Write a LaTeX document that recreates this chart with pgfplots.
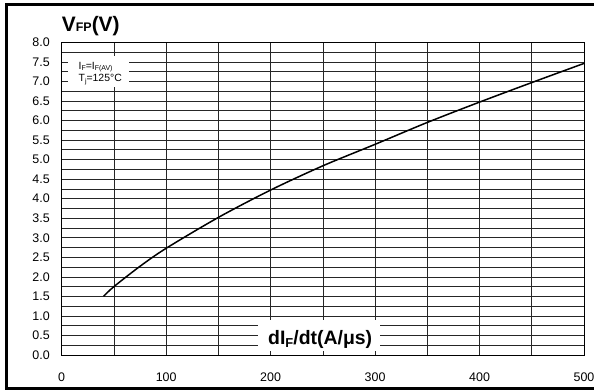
\documentclass[border=0pt]{standalone}
\usepackage{pgfplots}
\pgfplotsset{compat=1.18}
\usepackage{fontspec}
\setmainfont{Liberation Sans}
\begin{document}
\begin{tikzpicture}
\useasboundingbox (-61.7bp,-35bp) rectangle (532.3bp,355bp);
\draw[line width=3bp] (540bp,350bp) -- (-55.2bp,350bp) -- (-55.2bp,-33.5bp) -- (540bp,-33.5bp);
\begin{axis}[
  at={(0,0)}, anchor=south west,
  scale only axis, width=522.3bp, height=312.7bp,
  xmin=0, xmax=500, ymin=0, ymax=8,
  clip=false,
  xtick={0,100,...,500},
  minor xtick={50,150,...,450},
  ytick={0,0.5,...,8},
  minor ytick={0.25,0.75,...,7.75},
  grid=both,
  major grid style={black!85, line width=0.6bp},
  minor grid style={black!85, line width=0.6bp},
  axis line style={black, line width=0.8bp},
  major tick length=0pt, minor tick length=0pt,
  tick label style={font=\fontsize{12.5}{12.5}\selectfont},
  /pgf/number format/assume math mode=true,
  yticklabel style={/pgf/number format/fixed, /pgf/number format/fixed zerofill, /pgf/number format/precision=1, xshift=-8.4bp},
  xticklabel style={yshift=-14bp},
]
\addplot[black, line width=1.5bp, smooth] coordinates {
(40,1.50) (50,1.75) (75,2.27) (100,2.73) (150,3.52) (200,4.22) (250,4.84)
(300,5.39) (350,5.95) (400,6.47) (450,6.97) (500,7.46)
};
\fill[white] (axis cs:6,6.86) rectangle (axis cs:64.5,7.64);
\node[anchor=base west, inner sep=0, font=\fontsize{10.5}{10.5}\selectfont] at (axis cs:16,7.31)
  {I\raisebox{-0.15em}{\fontsize{7}{7}\selectfont F}=I\raisebox{-0.15em}{\fontsize{7}{7}\selectfont F(AV)}};
\node[anchor=base west, inner sep=0, font=\fontsize{10.5}{10.5}\selectfont] at (axis cs:16,6.99)
  {T\raisebox{-0.2em}{\fontsize{7}{7}\selectfont j}=125°C};
\fill[white] (axis cs:188,0.1) rectangle (axis cs:305,0.9);
\node[anchor=base west, inner sep=0, font=\bfseries\fontsize{19.5}{19.5}\selectfont] at (axis cs:197.5,0.256)
  {dI\raisebox{-0.12em}{\fontsize{13}{13}\selectfont F}/dt(A/μs)};
\node[anchor=base west, inner sep=0, yshift=10.7bp, font=\bfseries\fontsize{21}{21}\selectfont] at (rel axis cs:0,1)
  {V{\fontsize{12.5}{12.5}\selectfont FP}(V)};
\end{axis}
\end{tikzpicture}
\end{document}
